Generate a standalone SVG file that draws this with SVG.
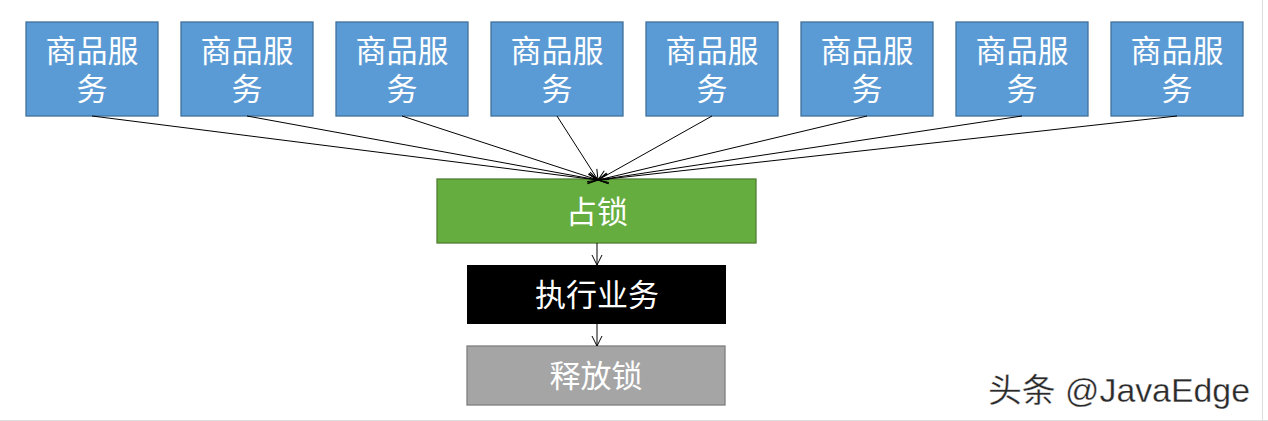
<svg xmlns="http://www.w3.org/2000/svg" width="1268" height="421" viewBox="0 0 1268 421">
<defs>
<marker id="arr" viewBox="0 0 12 12" refX="11" refY="6" markerWidth="12" markerHeight="12" markerUnits="userSpaceOnUse" orient="auto">
<path d="M1,1 L11,6 L1,11" fill="none" stroke="#000" stroke-width="1"/>
</marker>
<style>
.svc rect{fill:#5B9BD5;stroke:#41719C;stroke-width:1.3}
.t{font-family:"Noto Sans CJK SC","Liberation Sans",sans-serif;fill:#fff;text-anchor:middle}
.s{font-size:31px}
.c line{stroke:#000;stroke-width:1;marker-end:url(#arr)}
</style>
</defs>
<rect width="1268" height="421" fill="#fff"/>
<line x1="1262.5" y1="0" x2="1262.5" y2="421" stroke="#ddd"/>
<line x1="0" y1="420.5" x2="1268" y2="420.5" stroke="#ddd"/>
<g id="svc1" class="svc"><rect x="26" y="22" width="132" height="94"/><text class="t s" x="92" y="62">商品服</text><text class="t s" x="92" y="100">务</text></g>
<g id="svc2" class="svc"><rect x="181" y="22" width="132" height="94"/><text class="t s" x="247" y="62">商品服</text><text class="t s" x="247" y="100">务</text></g>
<g id="svc3" class="svc"><rect x="336" y="22" width="132" height="94"/><text class="t s" x="402" y="62">商品服</text><text class="t s" x="402" y="100">务</text></g>
<g id="svc4" class="svc"><rect x="491" y="22" width="132" height="94"/><text class="t s" x="557" y="62">商品服</text><text class="t s" x="557" y="100">务</text></g>
<g id="svc5" class="svc"><rect x="646" y="22" width="132" height="94"/><text class="t s" x="712" y="62">商品服</text><text class="t s" x="712" y="100">务</text></g>
<g id="svc6" class="svc"><rect x="801" y="22" width="132" height="94"/><text class="t s" x="867" y="62">商品服</text><text class="t s" x="867" y="100">务</text></g>
<g id="svc7" class="svc"><rect x="956" y="22" width="132" height="94"/><text class="t s" x="1022" y="62">商品服</text><text class="t s" x="1022" y="100">务</text></g>
<g id="svc8" class="svc"><rect x="1111" y="22" width="132" height="94"/><text class="t s" x="1177" y="62">商品服</text><text class="t s" x="1177" y="100">务</text></g>
<g id="lock"><rect x="437" y="179" width="319" height="64" fill="#66AD3F" stroke="#507E32" stroke-width="1.3"/><text class="t s" x="597" y="223">占锁</text></g>
<g id="exec"><rect x="467" y="265" width="259" height="59" fill="#000"/><text class="t s" x="597" y="306">执行业务</text></g>
<g id="release"><rect x="467" y="346" width="258" height="59" fill="#A5A5A5" stroke="#7F7F7F" stroke-width="1.3"/><text class="t s" x="596" y="387">释放锁</text></g>
<g class="c" id="connectors">
<line x1="92" y1="116" x2="598" y2="180"/>
<line x1="247" y1="116" x2="598" y2="180"/>
<line x1="402" y1="116" x2="598" y2="180"/>
<line x1="557" y1="116" x2="598" y2="180"/>
<line x1="712" y1="116" x2="598" y2="180"/>
<line x1="867" y1="116" x2="598" y2="180"/>
<line x1="1022" y1="116" x2="598" y2="180"/>
<line x1="1177" y1="116" x2="598" y2="180"/>
<line x1="597" y1="243" x2="597" y2="265"/>
<line x1="597" y1="324" x2="597" y2="346"/>
</g>
<text x="988" y="402" font-family="'Liberation Sans','Noto Sans CJK SC',sans-serif" font-size="33" fill="#2a2a2a" stroke="#fff" stroke-width="0.3" textLength="262" lengthAdjust="spacingAndGlyphs">头条 @JavaEdge</text>
</svg>
